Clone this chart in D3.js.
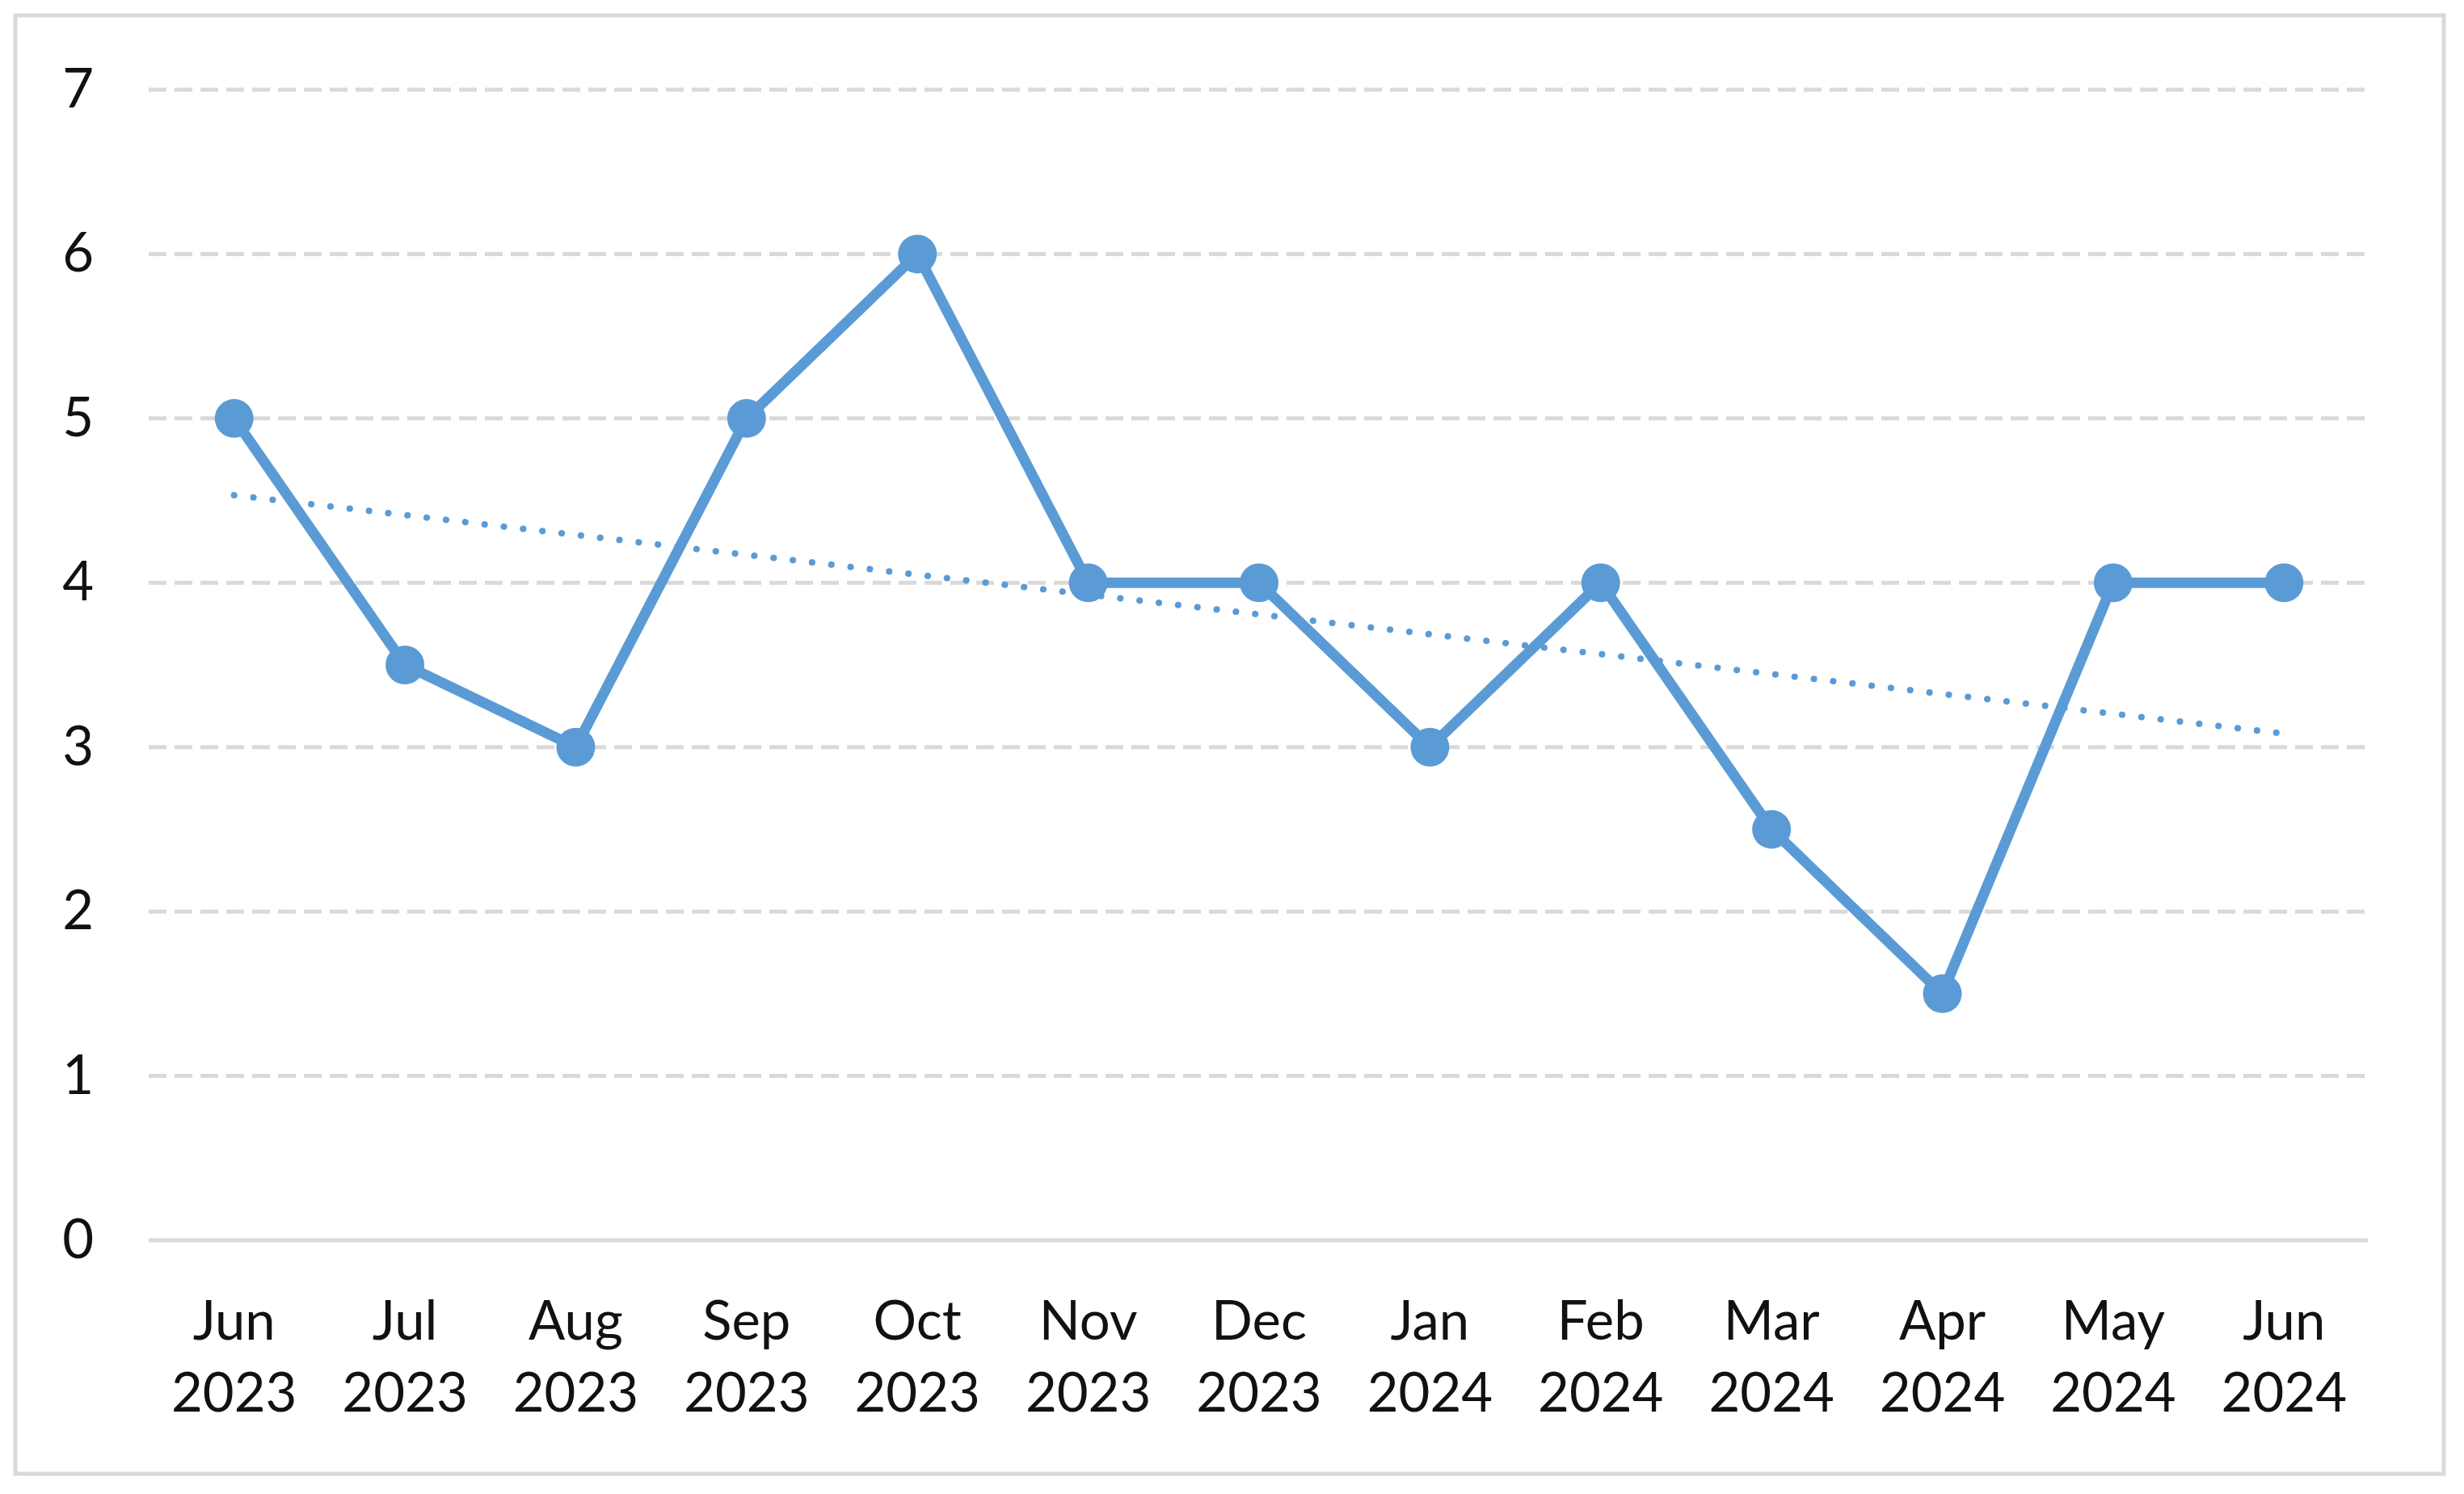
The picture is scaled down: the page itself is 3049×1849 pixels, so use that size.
<html>
    <head>
        <style>
            body { margin: 0; background: #fff; }
        </style>
        <script src="https://cdnjs.cloudflare.com/ajax/libs/d3/7.8.5/d3.min.js"></script>
    </head>
    <body>
        <script>
            const months = ['Jun', 'Jul', 'Aug', 'Sep', 'Oct', 'Nov', 'Dec', 'Jan', 'Feb', 'Mar', 'Apr', 'May', 'Jun'];
            const years = ['2023', '2023', '2023', '2023', '2023', '2023', '2023', '2024', '2024', '2024', '2024', '2024', '2024'];
            const values = [5, 3.5, 3, 5, 6, 4, 4, 3, 4, 2.5, 1.5, 4, 4];
            const yTicks = [0, 1, 2, 3, 4, 5, 6, 7];

            const width = 3049;
            const height = 1849;
            const blue = '#5b9bd5';
            const font = 'Lato, "Open Sans", sans-serif';

            const svg = d3.select('body').append('svg')
                .attr('width', width)
                .attr('height', height);

            svg.append('rect')
                .attr('width', width).attr('height', height)
                .attr('fill', '#fff');

            // chart frame
            svg.append('rect')
                .attr('x', 19).attr('y', 19)
                .attr('width', 3005).attr('height', 1805)
                .attr('fill', 'none')
                .attr('stroke', '#d9d9d9')
                .attr('stroke-width', 5);

            const idx = values.map((d, i) => i);
            const x = d3.scaleBand().domain(idx).range([184, 2932]);
            const y = d3.scaleLinear().domain([0, 7]).range([1535, 111]);
            const cx = i => x(i) + x.bandwidth() / 2;

            // gridlines
            svg.append('g')
                .selectAll('line')
                .data(yTicks.filter(t => t > 0))
                .enter().append('line')
                .attr('x1', 184).attr('x2', 2930)
                .attr('y1', d => y(d)).attr('y2', d => y(d))
                .attr('stroke', '#d9d9d9')
                .attr('stroke-width', 5)
                .attr('stroke-dasharray', '22 10');

            // baseline
            svg.append('line')
                .attr('x1', 184).attr('x2', 2930)
                .attr('y1', y(0)).attr('y2', y(0))
                .attr('stroke', '#d9d9d9')
                .attr('stroke-width', 5);

            // y axis labels
            const yAxis = svg.append('g')
                .attr('transform', 'translate(184,0)')
                .call(d3.axisLeft(y).tickValues(yTicks).tickSize(0).tickPadding(68).tickFormat(d3.format('d')));
            yAxis.select('.domain').remove();
            yAxis.selectAll('text')
                .attr('font-family', font)
                .attr('font-size', 67)
                .attr('fill', '#111');

            // x axis labels (two lines)
            const xl = svg.append('g')
                .selectAll('text')
                .data(idx)
                .enter().append('text')
                .attr('text-anchor', 'middle')
                .attr('font-family', font)
                .attr('font-size', 67)
                .attr('fill', '#111');
            xl.append('tspan').attr('x', d => cx(d)).attr('y', 1658).text(d => months[d]);
            xl.append('tspan').attr('x', d => cx(d)).attr('y', 1747).text(d => years[d]);

            // linear trendline (least squares)
            const n = values.length;
            const mx = d3.mean(idx), my = d3.mean(values);
            const slope = d3.sum(idx, i => (i - mx) * (values[i] - my)) / d3.sum(idx, i => (i - mx) * (i - mx));
            const icpt = my - slope * mx;
            svg.append('line')
                .attr('x1', cx(0)).attr('y1', y(icpt))
                .attr('x2', cx(n - 1)).attr('y2', y(icpt + slope * (n - 1)))
                .attr('stroke', blue)
                .attr('stroke-width', 8)
                .attr('stroke-linecap', 'round')
                .attr('stroke-dasharray', '0.1 23.9');

            // series line
            const line = d3.line().x(i => cx(i)).y(i => y(values[i]));
            svg.append('path')
                .datum(idx)
                .attr('d', line)
                .attr('fill', 'none')
                .attr('stroke', blue)
                .attr('stroke-width', 13)
                .attr('stroke-linejoin', 'round');

            svg.append('g')
                .selectAll('circle')
                .data(idx)
                .enter().append('circle')
                .attr('cx', i => cx(i))
                .attr('cy', i => y(values[i]))
                .attr('r', 24)
                .attr('fill', blue);
        </script>
    </body>
</html>
